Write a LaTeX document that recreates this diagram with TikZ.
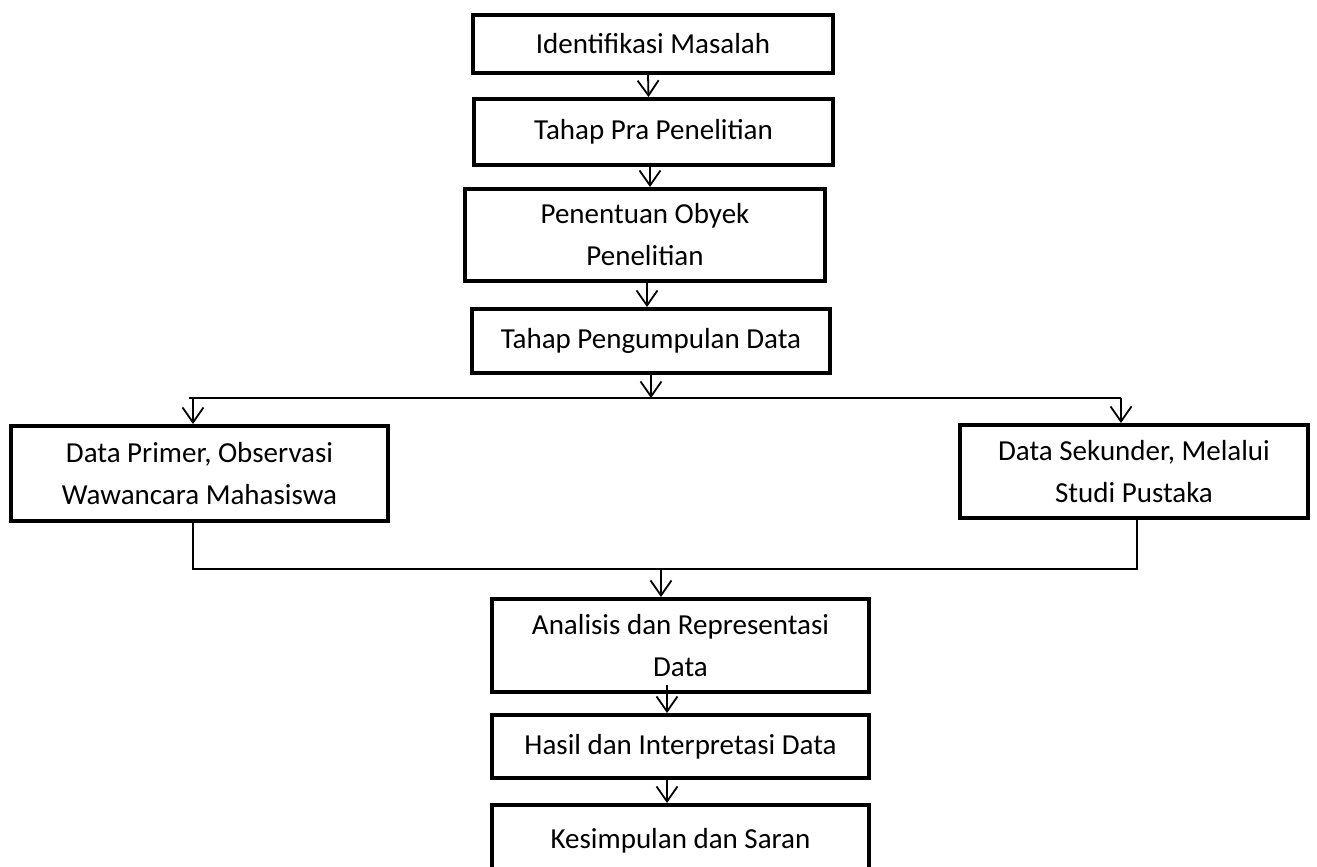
\documentclass[tikz,border=0pt]{standalone}
\usepackage{fontspec}
\setmainfont{Carlito}
\usetikzlibrary{arrows.meta}
\begin{document}
\begin{tikzpicture}[x=1pt,y=-1pt,
  box/.style={draw=black,line width=4pt,rectangle,inner sep=0pt,align=center,
    font=\fontsize{29}{42}\selectfont},
  ln/.style={draw=black,line width=1.8pt},
  arr/.style={draw=black,line width=1.8pt,-{Straight Barb[length=15pt,width=21pt,line width=1.8pt]}}]
\useasboundingbox (0,0) rectangle (1317,867);
\node[box,minimum width=360pt,minimum height=58pt] (B1) at (653,44) {Identifikasi Masalah};
\node[box,minimum width=359pt,minimum height=66pt] (B2) at (653.5,132) {Tahap Pra Penelitian};
\node[box,minimum width=360pt,minimum height=92pt] (B3) at (645,235) {Penentuan Obyek\\Penelitian};
\node[box,minimum width=358pt,minimum height=64pt] (B4) at (651,341) {Tahap Pengumpulan Data};
\node[box,minimum width=377pt,minimum height=95pt] (L) at (199.5,473.5) {Data Primer, Observasi\\Wawancara Mahasiswa};
\node[box,minimum width=348pt,minimum height=93pt] (R) at (1134,471.5) {Data Sekunder, Melalui\\Studi Pustaka};
\node[box,minimum width=377pt,minimum height=93pt] (A) at (680.5,645.5) {\raisebox{-5pt}{\parbox{377pt}{\centering Analisis dan Representasi\\Data}}};
\node[box,minimum width=377pt,minimum height=63pt] (H) at (680.5,746.5) {Hasil dan Interpretasi Data};
\node[box,minimum width=377pt,minimum height=66pt,text depth=0pt] (K) at (680.5,838) {Kesimpulan dan Saran};
\coordinate (split) at (651,398);
\coordinate (sl) at (193,398);
\coordinate (sr) at (1121,398);
\coordinate (jl) at (193,569);
\coordinate (jr) at (1137,569);
\coordinate (jm) at (661,569);
\draw[arr] ([xshift=-5pt]B1.south) -- ([xshift=-5pt]B2.north);
\draw[arr] ([xshift=-3.5pt]B2.south) -- ([xshift=-3.5pt]B2.south |- B3.north);
\draw[arr] ([xshift=2pt]B3.south) -- ([xshift=2pt]B3.south |- B4.north);
\draw[arr] (B4.south) -- (split);
\draw[ln] ([xshift=-4pt]sl) -- (sr);
\draw[arr] (sl) -- (sl |- L.north);
\draw[arr] (sr) -- (sr |- R.north);
\draw[ln] (L.south -| jl) -- (jl) -- (jr) -- (R.south -| jr);
\draw[arr] (jm) -- (jm |- A.north);
\draw[arr] ([xshift=-13.5pt,yshift=9pt]A.south) -- ([xshift=-13.5pt]H.north);
\draw[arr] ([xshift=-13.5pt]H.south) -- ([xshift=-13.5pt]K.north);
\end{tikzpicture}
\end{document}
